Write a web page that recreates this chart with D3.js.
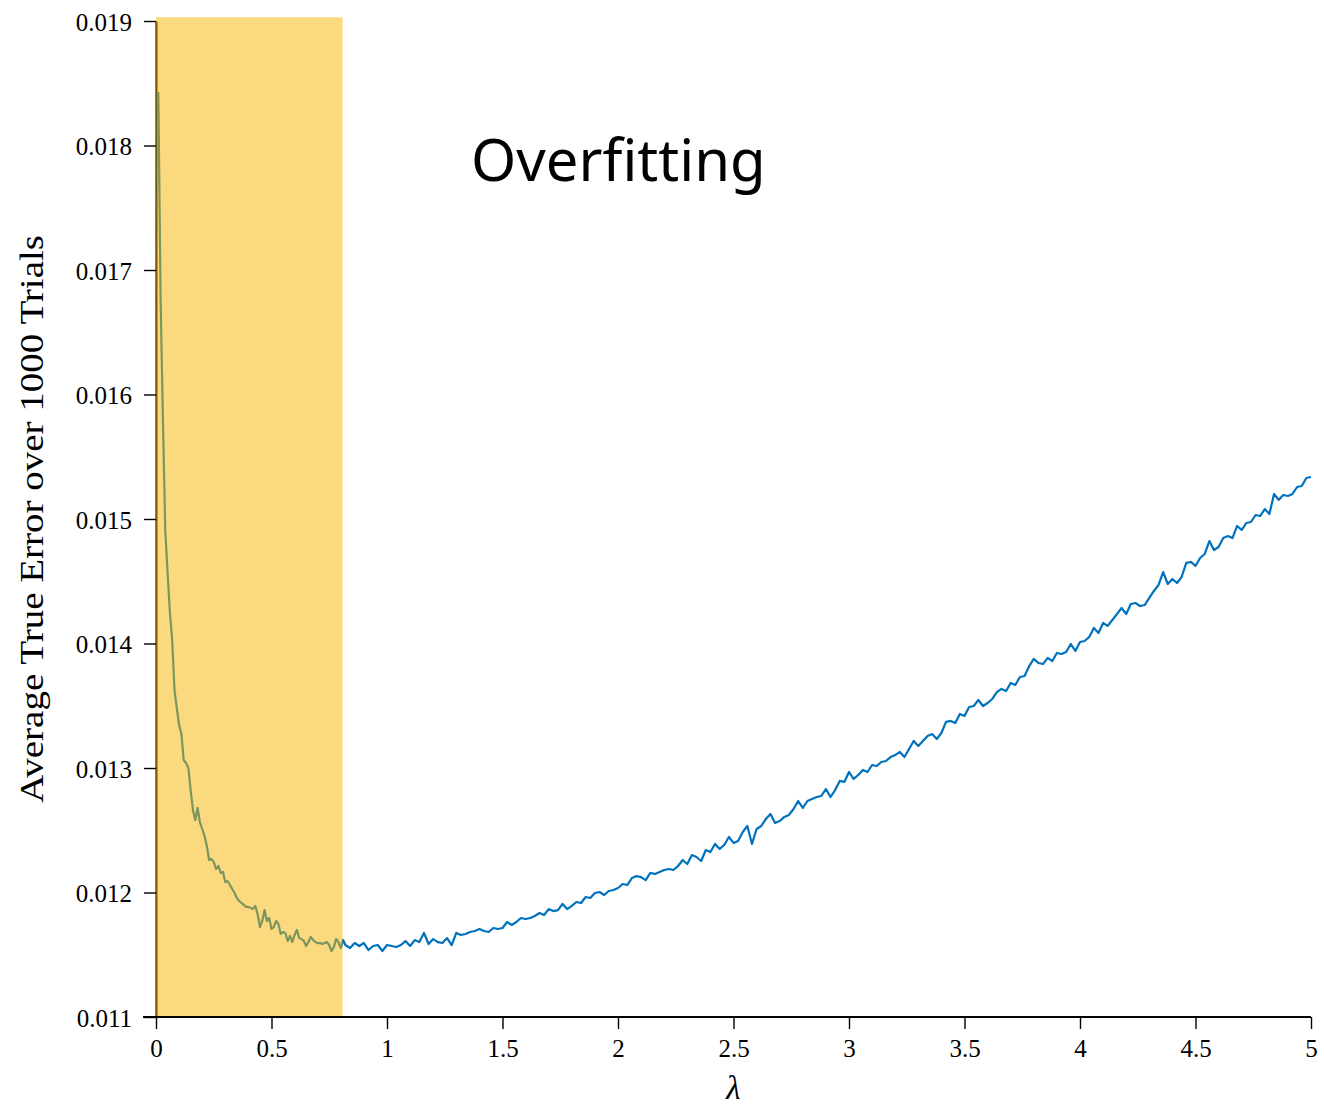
<!DOCTYPE html>
<html>
<head>
<meta charset="utf-8">
<script src="https://cdn.jsdelivr.net/npm/d3@7"></script>
<style>
  body { margin: 0; background: #fff; }
  .tick text { font-family: "Liberation Serif", serif; font-size: 25px; fill: #000; }
</style>
</head>
<body>
<div id="chart"></div>
<script>
// lambda grid, fine part (step 0.01) up to the end of the shaded band
const lambdaFine = [
  0.01,0.02,0.03,0.04,0.05,0.06,0.07,0.08,0.09,0.10,
  0.11,0.12,0.13,0.14,0.15,0.16,0.17,0.18,0.19,0.20,
  0.21,0.22,0.23,0.24,0.25,0.26,0.27,0.28,0.29,0.30,
  0.31,0.32,0.33,0.34,0.35,0.36,0.37,0.38,0.39,0.40,
  0.41,0.42,0.43,0.44,0.45,0.46,0.47,0.48,0.49,0.50,
  0.51,0.52,0.53,0.54,0.55,0.56,0.57,0.58,0.59,0.60,
  0.61,0.62,0.63,0.64,0.65,0.66,0.67,0.68,0.69,0.70,
  0.71,0.72,0.73,0.74,0.75,0.76,0.77,0.78,0.79,0.80,
  0.81,0.82
];
const errorFine = [
  0.018430,0.016759,0.015795,0.014912,0.014574,0.014253,0.014028,0.013626,0.013482,0.013345,
  0.013273,0.013064,0.013040,0.013000,0.012823,0.012663,0.012582,0.012679,0.012566,0.012510,
  0.012454,0.012374,0.012261,0.012269,0.012245,0.012189,0.012213,0.012157,0.012165,0.012084,
  0.012092,0.012060,0.012028,0.011996,0.011956,0.011932,0.011916,0.011900,0.011884,0.011884,
  0.011876,0.011868,0.011892,0.011827,0.011723,0.011771,0.011859,0.011771,0.011795,0.011707,
  0.011723,0.011771,0.011747,0.011667,0.011683,0.011675,0.011610,0.011651,0.011602,0.011659,
  0.011699,0.011635,0.011627,0.011610,0.011570,0.011602,0.011643,0.011619,0.011602,0.011594,
  0.011594,0.011586,0.011594,0.011602,0.011578,0.011530,0.011562,0.011627,0.011602,0.011554,
  0.011619,0.011578
];

// lambda grid, remaining part (step 0.02)
const lambdaCoarse = [
  0.84,0.86,0.88,0.90,0.92,0.94,0.96,0.98,1.00,1.02,
  1.04,1.06,1.08,1.10,1.12,1.14,1.16,1.18,1.20,1.22,
  1.24,1.26,1.28,1.30,1.32,1.34,1.36,1.38,1.40,1.42,
  1.44,1.46,1.48,1.50,1.52,1.54,1.56,1.58,1.60,1.62,
  1.64,1.66,1.68,1.70,1.72,1.74,1.76,1.78,1.80,1.82,
  1.84,1.86,1.88,1.90,1.92,1.94,1.96,1.98,2.00,2.02,
  2.04,2.06,2.08,2.10,2.12,2.14,2.16,2.18,2.20,2.22,
  2.24,2.26,2.28,2.30,2.32,2.34,2.36,2.38,2.40,2.42,
  2.44,2.46,2.48,2.50,2.52,2.54,2.56,2.58,2.60,2.62,
  2.64,2.66,2.68,2.70,2.72,2.74,2.76,2.78,2.80,2.82,
  2.84,2.86,2.88,2.90,2.92,2.94,2.96,2.98,3.00,3.02,
  3.04,3.06,3.08,3.10,3.12,3.14,3.16,3.18,3.20,3.22,
  3.24,3.26,3.28,3.30,3.32,3.34,3.36,3.38,3.40,3.42,
  3.44,3.46,3.48,3.50,3.52,3.54,3.56,3.58,3.60,3.62,
  3.64,3.66,3.68,3.70,3.72,3.74,3.76,3.78,3.80,3.82,
  3.84,3.86,3.88,3.90,3.92,3.94,3.96,3.98,4.00,4.02,
  4.04,4.06,4.08,4.10,4.12,4.14,4.16,4.18,4.20,4.22,
  4.24,4.26,4.28,4.30,4.32,4.34,4.36,4.38,4.40,4.42,
  4.44,4.46,4.48,4.50,4.52,4.54,4.56,4.58,4.60,4.62,
  4.64,4.66,4.68,4.70,4.72,4.74,4.76,4.78,4.80,4.82,
  4.84,4.86,4.88,4.90,4.92,4.94,4.96,4.98,5.00
];
const errorCoarse = [
  0.011554,0.011594,0.011570,0.011594,0.011538,0.011570,0.011578,0.011530,0.011578,0.011570,
  0.011562,0.011578,0.011610,0.011570,0.011618,0.011602,0.011675,0.011586,0.011626,0.011602,
  0.011594,0.011634,0.011578,0.011675,0.011659,0.011667,0.011683,0.011691,0.011707,0.011691,
  0.011683,0.011715,0.011707,0.011715,0.011763,0.011739,0.011763,0.011795,0.011787,0.011795,
  0.011811,0.011835,0.011819,0.011867,0.011851,0.011859,0.011908,0.011867,0.011892,0.011924,
  0.011916,0.011964,0.011956,0.011996,0.012004,0.011980,0.012012,0.012020,0.012036,0.012068,
  0.012060,0.012116,0.012132,0.012124,0.012100,0.012157,0.012149,0.012165,0.012181,0.012189,
  0.012181,0.012213,0.012261,0.012229,0.012301,0.012285,0.012253,0.012341,0.012325,0.012390,
  0.012349,0.012382,0.012446,0.012398,0.012414,0.012486,0.012534,0.012390,0.012510,0.012534,
  0.012590,0.012631,0.012558,0.012574,0.012607,0.012623,0.012671,0.012735,0.012679,0.012735,
  0.012751,0.012767,0.012775,0.012831,0.012767,0.012823,0.012896,0.012888,0.012968,0.012912,
  0.012944,0.012984,0.012968,0.013024,0.013016,0.013048,0.013056,0.013088,0.013104,0.013129,
  0.013088,0.013153,0.013217,0.013177,0.013217,0.013257,0.013273,0.013233,0.013281,0.013370,
  0.013378,0.013362,0.013434,0.013418,0.013490,0.013498,0.013546,0.013498,0.013522,0.013554,
  0.013610,0.013635,0.013618,0.013683,0.013667,0.013731,0.013739,0.013819,0.013876,0.013843,
  0.013835,0.013884,0.013859,0.013924,0.013916,0.013932,0.013996,0.013940,0.014012,0.014020,
  0.014052,0.014125,0.014084,0.014165,0.014141,0.014189,0.014237,0.014285,0.014237,0.014317,
  0.014325,0.014301,0.014309,0.014366,0.014422,0.014470,0.014574,0.014478,0.014518,0.014486,
  0.014534,0.014647,0.014655,0.014623,0.014687,0.014719,0.014823,0.014751,0.014775,0.014847,
  0.014863,0.014847,0.014944,0.014912,0.014968,0.014976,0.015032,0.015024,0.015080,0.015040,
  0.015201,0.015153,0.015193,0.015185,0.015201,0.015257,0.015265,0.015329,0.015337
];

const xTicks = [0, 0.5, 1, 1.5, 2, 2.5, 3, 3.5, 4, 4.5, 5];
const yTicks = [0.011, 0.012, 0.013, 0.014, 0.015, 0.016, 0.017, 0.018, 0.019];
const shadeLambda = [0, 0.808];
const shadeError = [0.011, 0.01903];

const width = 1324, height = 1109;
const margin = {top: 21, right: 13, bottom: 92, left: 156};

let svg = d3.select("#chart").append("svg")
    .attr("width", width)
    .attr("height", height);

let xScale = d3.scaleLinear().domain([0, 5]).range([margin.left, width - margin.right]);
let yScale = d3.scaleLinear().domain([0.011, 0.019]).range([height - margin.bottom, margin.top]);

let points = [];
lambdaFine.forEach((l, i) => points.push({lambda: l, err: errorFine[i]}));
lambdaCoarse.forEach((l, i) => points.push({lambda: l, err: errorCoarse[i]}));

//---Y AXIS (under the shaded band)---
let yAxisGroup = svg.append("g")
    .attr("transform", "translate(" + margin.left + ",0)")
    .call(d3.axisLeft(yScale).tickValues(yTicks).tickFormat(d3.format(".3f")).tickSize(12).tickSizeOuter(0).tickPadding(12));
yAxisGroup.select(".domain").attr("stroke", "#000").attr("stroke-width", 2);
yAxisGroup.selectAll(".tick line").attr("stroke-width", 1.4);
yAxisGroup.selectAll(".tick text").attr("dy", "0.36em");

//---LINE---
let lineGenerator = d3.line()
    .x(d => xScale(d.lambda))
    .y(d => yScale(d.err));

svg.append("path")
    .datum(points)
    .attr("fill", "none")
    .attr("stroke", "#0072bd")
    .attr("stroke-width", 2.2)
    .attr("stroke-linejoin", "round")
    .attr("d", lineGenerator);

//---SHADED BAND---
svg.append("rect")
    .attr("x", xScale(shadeLambda[0]))
    .attr("y", yScale(shadeError[1]))
    .attr("width", xScale(shadeLambda[1]) - xScale(shadeLambda[0]))
    .attr("height", yScale(shadeError[0]) - yScale(shadeError[1]))
    .attr("fill", "#f7b500")
    .attr("fill-opacity", 0.5);

//---X AXIS---
let xAxisGroup = svg.append("g")
    .attr("transform", "translate(0," + yScale(0.011) + ")")
    .call(d3.axisBottom(xScale).tickValues(xTicks).tickFormat(d3.format("")).tickSize(12).tickSizeOuter(0).tickPadding(10));
xAxisGroup.select(".domain")
    .attr("stroke", "#000").attr("stroke-width", 2)
    .attr("d", "M" + (xScale(0) - 13) + ",0H" + xScale(5));
xAxisGroup.selectAll(".tick line").attr("stroke-width", 1.4);

//---LABELS---
svg.append("text")
    .text("λ")
    .attr("x", xScale(2.5))
    .attr("y", 1099)
    .attr("text-anchor", "middle")
    .style("font-family", "'Liberation Serif', serif")
    .style("font-style", "italic")
    .style("font-size", "33px");

svg.append("text")
    .text("Average True Error over 1000 Trials")
    .attr("text-anchor", "middle")
    .attr("textLength", 568)
    .attr("lengthAdjust", "spacingAndGlyphs")
    .attr("transform", "translate(43," + 519 + ") rotate(-90)")
    .style("font-family", "'Liberation Serif', serif")
    .style("font-size", "33px");

svg.append("text")
    .text("Overfitting")
    .attr("x", 471)
    .attr("y", 181)
    .style("font-family", "'Noto Sans', sans-serif")
    .style("font-size", "58px");
</script>
</body>
</html>
